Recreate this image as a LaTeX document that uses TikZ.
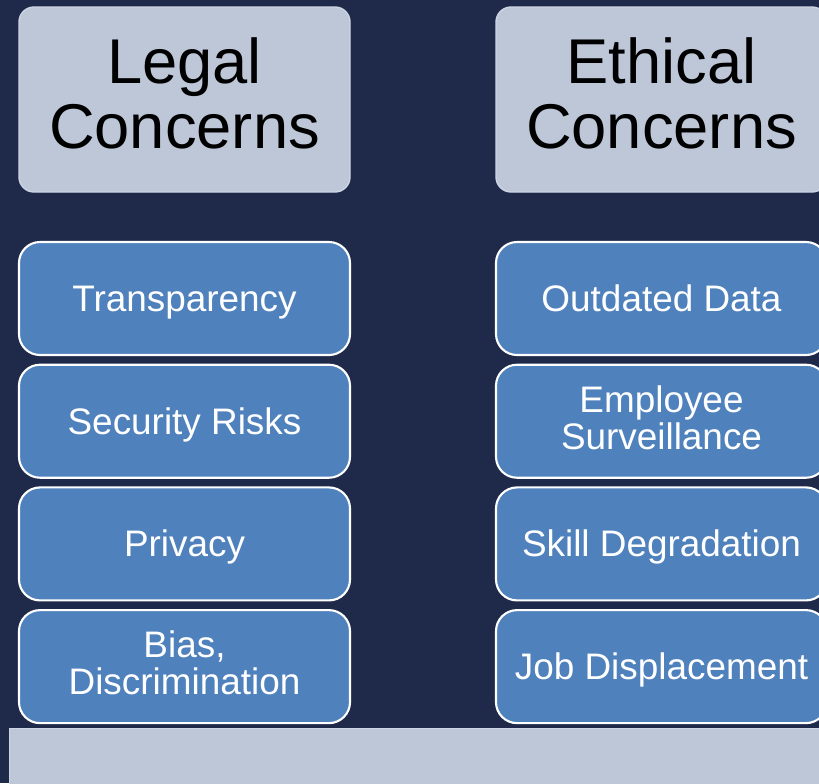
\documentclass[tikz,border=0pt]{standalone}
\usepackage{fontspec}
\setmainfont{Liberation Sans}
\usetikzlibrary{shapes,positioning}

\definecolor{navybg}{HTML}{1F2A4A}
\definecolor{headfill}{HTML}{BEC7D8}
\definecolor{headline}{HTML}{CDD4E3}
\definecolor{itemfill}{HTML}{4F81BD}

% line boxes like a slide text frame
\newcommand{\topstrut}{\rule{0pt}{0.905em}}
\newcommand{\botstrut}{\rule[-0.212em]{0pt}{0.212em}}

\begin{document}
\begin{tikzpicture}[
    headbox/.style={draw=headline, line width=0.8pt, fill=headfill, rounded corners=0.3cm,
        minimum width=6.62cm, minimum height=3.7cm, align=center, text=black,
        font=\fontsize{36}{37}\selectfont,
        execute at begin node=\topstrut, execute at end node=\botstrut},
    itembox/.style={draw=white, line width=1.2pt, fill=itemfill, rounded corners=0.42cm,
        minimum width=6.62cm, minimum height=2.26cm, align=center, text=white,
        font=\fontsize{21}{21}\selectfont,
        execute at begin node=\topstrut, execute at end node=\botstrut},
    twoline/.style={execute at begin node={\rule{0pt}{1.07em}}}
]
% Fix the page size and paint the background
\useasboundingbox (0,0) rectangle (16.38,-15.66);
\fill[navybg] (0,0) rectangle (16.38,-15.66);

% Column headers
\node[headbox] (legal) at (3.69,-1.99) {Legal\\Concerns};
\node[headbox] (ethical) at (13.23,-1.99) {Ethical\\Concerns};

% Legal column items
\node[itembox] (legal1) at (3.69,-5.97) {Transparency};
\node[itembox] (legal2) at (3.69,-8.424) {Security Risks};
\node[itembox] (legal3) at (3.69,-10.878) {Privacy};
\node[itembox, twoline] (legal4) at (3.69,-13.332) {Bias,\\Discrimination};

% Ethical column items
\node[itembox] (ethical1) at (13.23,-5.97) {Outdated Data};
\node[itembox, twoline] (ethical2) at (13.23,-8.424) {Employee\\Surveillance};
\node[itembox] (ethical3) at (13.23,-10.878) {Skill Degradation};
\node[itembox] (ethical4) at (13.23,-13.332) {Job Displacement};

% Bottom strip
\draw[headline, line width=0.8pt, fill=headfill] (0.19,-14.57) rectangle (16.6,-15.9);

\end{tikzpicture}
\end{document}
